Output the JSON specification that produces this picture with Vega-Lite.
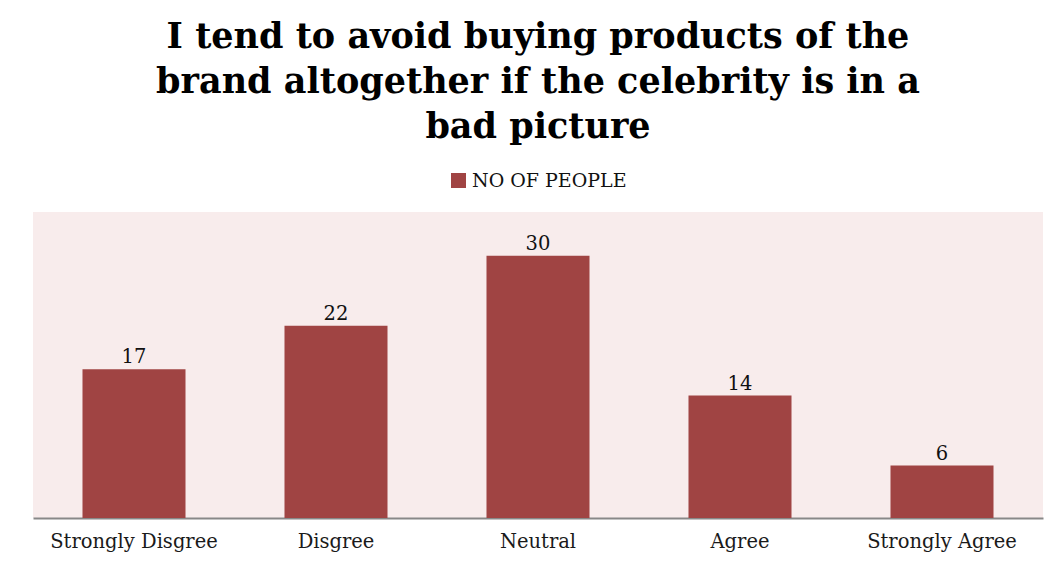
{
  "$schema": "https://vega.github.io/schema/vega-lite/v6.json",
  "width": 1010,
  "height": 306,
  "autosize": {"type": "none"},
  "padding": {"left": 33, "top": 212, "right": 11, "bottom": 47},
  "background": "white",
  "title": {
    "text": ["I tend to avoid buying products of the", "brand altogether if the celebrity is in a", "bad picture"],
    "font": "DejaVu Serif",
    "fontSize": 35,
    "fontWeight": "bold",
    "color": "#000000",
    "lineHeight": 45,
    "anchor": "middle",
    "offset": 26
  },
  "data": {
    "values": [
      {"response": "Strongly Disgree", "count": 17},
      {"response": "Disgree", "count": 22},
      {"response": "Neutral", "count": 30},
      {"response": "Agree", "count": 14},
      {"response": "Strongly Agree", "count": 6}
    ]
  },
  "encoding": {
    "x": {
      "field": "response",
      "type": "nominal",
      "sort": null,
      "scale": {"paddingInner": 0.49, "paddingOuter": 0.245},
      "axis": {
        "title": null,
        "labelAngle": 0,
        "labelFont": "DejaVu Serif",
        "labelFontSize": 19.5,
        "labelColor": "#1a1a1a",
        "labelPadding": 14,
        "ticks": false,
        "domainColor": "#888888",
        "domainWidth": 2,
        "grid": false
      }
    },
    "y": {
      "field": "count",
      "type": "quantitative",
      "scale": {"domain": [0, 35], "nice": false},
      "axis": null
    }
  },
  "layer": [
    {
      "mark": {"type": "bar", "color": "#A04443"},
      "encoding": {
        "color": {
          "datum": "NO OF PEOPLE",
          "type": "nominal",
          "scale": {"range": ["#A04443"]},
          "legend": {
            "title": null,
            "orient": "top",
            "symbolType": "square",
            "symbolSize": 225,
            "symbolStrokeWidth": 0,
            "labelFont": "DejaVu Serif",
            "labelFontSize": 19,
            "labelColor": "#111111",
            "labelOffset": 4,
            "offset": 21
          }
        }
      }
    },
    {
      "mark": {"type": "text", "dy": -12, "font": "DejaVu Serif", "fontSize": 19.5, "color": "#111111"},
      "encoding": {
        "text": {"field": "count", "type": "quantitative"}
      }
    }
  ],
  "config": {
    "view": {"fill": "#F8ECEC", "stroke": null},
    "legend": {"layout": {"top": {"anchor": "middle"}}}
  }
}
